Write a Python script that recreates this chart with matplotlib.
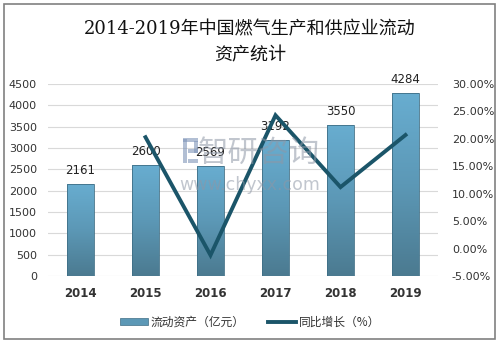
import numpy as np
import matplotlib.pyplot as plt
from matplotlib.colors import LinearSegmentedColormap
from matplotlib.patches import Rectangle
from matplotlib.lines import Line2D

plt.rcParams['font.family'] = ['DejaVu Sans', 'Noto Sans CJK SC']

# 数据
years = ['2014', '2015', '2016', '2017', '2018', '2019']
assets = [2161, 2600, 2569, 3192, 3550, 4284]          # 流动资产（亿元）
growth = [None, 20.3, -1.2, 24.3, 11.2, 20.7]           # 同比增长（%）

cjk = ['Noto Sans CJK SC', 'DejaVu Sans']
fig = plt.figure(figsize=(5, 3.43), dpi=100)
ax = fig.add_axes([48 / 500, 1 - 276 / 343, 390 / 500, 192 / 343])

x = np.arange(len(years))
bars = ax.bar(x, assets, width=0.41, color='none', edgecolor='#3f6f86',
              linewidth=0.6, zorder=3)

# 柱子渐变填充
cmap = LinearSegmentedColormap.from_list('bar', ['#4b7a90', '#5c98b6', '#68add0'])
grad = np.linspace(0, 1, 256).reshape(-1, 1)
for b in bars:
    bx, by = b.get_x(), b.get_y()
    w, h = b.get_width(), b.get_height()
    im = ax.imshow(grad, cmap=cmap, origin='lower', aspect='auto',
                   extent=[bx, bx + w, by, by + h], zorder=2)
    im.set_clip_path(b)

for xi, v in zip(x, assets):
    ax.annotate(str(v), (xi, v), xytext=(0, 5), textcoords='offset points',
                ha='center', va='bottom', fontsize=8.5, color='#222222', zorder=6)

ax.set_xlim(-0.5, 5.5)
ax.set_ylim(0, 4500)
ax.set_yticks(np.arange(0, 4501, 500))
ax.set_xticks(x)
ax.set_xticklabels(years, fontweight='bold', fontsize=8.5, color='#333333')
ax.tick_params(axis='y', labelsize=8, colors='#333333', length=0, pad=8)
ax.tick_params(axis='x', length=0, pad=8)
ax.grid(axis='y', color='#d9d9d9', linewidth=0.8, zorder=0)
for s in ax.spines.values():
    s.set_visible(False)

# 同比增长折线（右轴）
ax2 = ax.twinx()
ax2.plot(x[1:], growth[1:], color='#1b5569', linewidth=2.8, zorder=5,
         solid_joinstyle='miter')
ax2.set_ylim(-5, 30)
ax2.set_yticks(np.arange(-5, 31, 5))
ax2.set_yticklabels([f'{t:.2f}%' for t in np.arange(-5, 31, 5)])
ax2.tick_params(axis='y', labelsize=8, colors='#333333', length=0, pad=10)
for s in ax2.spines.values():
    s.set_visible(False)

# 水印
wm = '#8e97a6'
fig.text(0.518, 0.553, '智研咨询', fontsize=22, color=wm, alpha=0.55,
         family=cjk, ha='center', va='center', zorder=10)
fig.text(0.5, 0.461, 'www.chyxx.com', fontsize=12.5, color=wm, alpha=0.55,
         ha='center', va='center', zorder=10)
logo_c = '#7f95b8'
for rx, ry, rw, rh in [(0.366, 0.585, 0.030, 0.012), (0.366, 0.525, 0.008, 0.07),
                       (0.388, 0.555, 0.008, 0.035), (0.375, 0.555, 0.021, 0.010),
                       (0.375, 0.525, 0.021, 0.010)]:
    fig.add_artist(Rectangle((rx, ry), rw, rh, transform=fig.transFigure,
                             facecolor=logo_c, edgecolor='none', alpha=0.6, zorder=10))

fig.text(0.5, 0.915, '2014-2019年中国燃气生产和供应业流动', fontsize=13,
         fontweight='medium', family=['DejaVu Serif', 'Noto Sans CJK SC'],
         ha='center', va='center', color='#111111')
fig.text(0.5, 0.84, '资产统计', fontsize=13, fontweight='medium', family=cjk,
         ha='center', va='center', color='#111111')

# 图例
handles = [Rectangle((0, 0), 1, 1, facecolor='#5c98b6', edgecolor='#3f6f86', linewidth=0.5),
           Line2D([0], [0], color='#1b5569', linewidth=2.8)]
fig.legend(handles, ['流动资产（亿元）', '同比增长（%）'], loc='center',
           bbox_to_anchor=(0.5, 1 - 322 / 343), ncol=2, frameon=False,
           prop={'family': cjk, 'size': 8.5}, handlelength=2.4, handleheight=0.6,
           columnspacing=2.0, handletextpad=0.2, labelcolor='#333333')

fig.add_artist(Rectangle((0.008, 0.012), 0.982, 0.977, transform=fig.transFigure,
                         fill=False, edgecolor='#808080', linewidth=1.2))

fig.savefig('out.png', dpi=100)
